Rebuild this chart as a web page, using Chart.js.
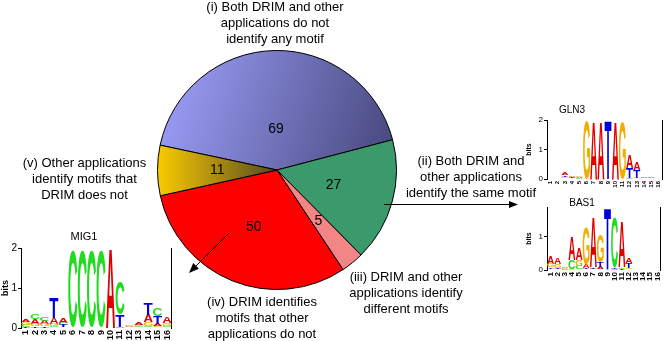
<!DOCTYPE html>
<html>
<head>
<meta charset="utf-8">
<script src="https://cdn.jsdelivr.net/npm/chart.js@4.4.0/dist/chart.umd.min.js"></script>
<style>
  html, body { margin: 0; padding: 0; background: #fff; }
  #wrap { position: relative; width: 669px; height: 341px; overflow: hidden; }
  #wrap canvas { position: absolute; }
</style>
</head>
<body>
<div id="wrap">
  <canvas id="pie" width="669" height="341" style="left:0px;top:0px"></canvas>
  <canvas id="mig1" width="180" height="116" style="left:0px;top:225px"></canvas>
  <canvas id="gln3" width="144" height="92" style="left:525px;top:100px"></canvas>
  <canvas id="bas1" width="144" height="100" style="left:525px;top:195px"></canvas>
</div>
<script>
// Pie: categories and counts
const categories = [
    ['(i) Both DRIM and other', 'applications do not', 'identify any motif'],
    ['(ii) Both DRIM and', 'other applications', 'identify the same motif'],
    ['(iii) DRIM and other', 'applications identify', 'different motifs'],
    ['(iv) DRIM identifies', 'motifs that other', 'applications do not'],
    ['(v) Other applications', 'identify motifs that', 'DRIM does not'],
];
const counts = [69, 27, 5, 50, 11];

// Logo positions (x tick labels)
const positionLabels = ['1', '2', '3', '4', '5', '6', '7', '8', '9', '10', '11', '12', '13', '14', '15', '16'];

// Letter heights in bits, per position
const mig1A = [0.07, 0.12, 0.08, 0.15, 0.13, 0.01, 0.01, 0.01, 0.01, 1.98, 0.02, 0.02, 0.05, 0.18, 0.07, 0.16];
const mig1C = [0.05, 0.13, 0.09, 0.04, 0.06, 1.92, 1.92, 1.92, 1.92, 0.00, 0.83, 0.01, 0.03, 0.04, 0.20, 0.04];
const mig1G = [0.06, 0.06, 0.05, 0.06, 0.02, 0.01, 0.01, 0.01, 0.01, 0.00, 0.01, 0.02, 0.03, 0.10, 0.04, 0.06];
const mig1T = [0.03, 0.04, 0.04, 0.50, 0.05, 0.01, 0.01, 0.01, 0.01, 0.00, 0.30, 0.01, 0.02, 0.28, 0.18, 0.02];

const gln3A = [0.01, 0.01, 0.10, 0.04, 0.03, 0.01, 1.95, 1.95, 0.00, 1.95, 0.01, 0.45, 0.25, 0.02, 0.03, 0.01];
const gln3C = [0.01, 0.01, 0.03, 0.02, 0.02, 0.00, 0.00, 0.00, 0.00, 0.00, 0.00, 0.02, 0.02, 0.01, 0.01, 0.01];
const gln3G = [0.01, 0.01, 0.04, 0.03, 0.04, 1.95, 0.00, 0.00, 0.00, 0.00, 1.94, 0.01, 0.03, 0.02, 0.03, 0.01];
const gln3T = [0.01, 0.01, 0.06, 0.02, 0.01, 0.00, 0.00, 0.00, 2.00, 0.00, 0.00, 0.33, 0.24, 0.01, 0.01, 0.01];

const bas1A = [0.22, 0.20, 0.03, 0.69, 0.36, 0.12, 1.48, 0.06, 0.01, 0.02, 1.38, 0.16, 0.01, 0.01, 0.01, 0.01];
const bas1C = [0.03, 0.03, 0.02, 0.27, 0.10, 0.02, 0.02, 0.03, 0.01, 1.50, 0.04, 0.02, 0.01, 0.01, 0.01, 0.01];
const bas1G = [0.10, 0.10, 0.02, 0.02, 0.18, 1.10, 0.04, 0.82, 0.01, 0.01, 0.01, 0.03, 0.01, 0.01, 0.01, 0.01];
const bas1T = [0.05, 0.04, 0.01, 0.01, 0.03, 0.03, 0.02, 0.15, 1.85, 0.04, 0.03, 0.15, 0.01, 0.01, 0.01, 0.01];

const FONT = '"Liberation Sans", Arial, sans-serif';
const LETTERS = ['A', 'C', 'G', 'T'];
const LETTER_COLORS = { A: '#e00000', C: '#1fdc1f', G: '#f0ae00', T: '#0000d8' };
const SLICE_COLORS = ['#7577c8', '#3a9a6b', '#f28585', '#ff0000', '#d8ae00'];

Chart.defaults.font.family = FONT;
Chart.defaults.color = '#000000';

/* ---------- pie ---------- */

function sliceColor(context) {
    const i = context.dataIndex;
    const area = context.chart.chartArea;
    if (!area) return SLICE_COLORS[i];
    const ctx = context.chart.ctx;
    if (i === 0) {
        const g = ctx.createLinearGradient(area.left + 10, area.top + 40, area.right, area.top + 110);
        g.addColorStop(0, '#9a9cf6');
        g.addColorStop(1, '#45467a');
        return g;
    }
    if (i === 4) {
        const cx = (area.left + area.right) / 2;
        const g = ctx.createLinearGradient(area.left, 0, cx, 0);
        g.addColorStop(0, '#fccb00');
        g.addColorStop(1, '#564a20');
        return g;
    }
    return SLICE_COLORS[i];
}

function drawArrow(ctx, x1, y1, x2, y2, len, half) {
    const a = Math.atan2(y2 - y1, x2 - x1);
    const c = Math.cos(a), s = Math.sin(a);
    ctx.beginPath();
    ctx.moveTo(x1, y1);
    ctx.lineTo(x2 - c * len * 0.7, y2 - s * len * 0.7);
    ctx.stroke();
    ctx.beginPath();
    ctx.moveTo(x2, y2);
    ctx.lineTo(x2 - c * len - s * half, y2 - s * len + c * half);
    ctx.lineTo(x2 - c * len + s * half, y2 - s * len - c * half);
    ctx.closePath();
    ctx.fill();
}

// where each slice's number sits, as a share of the radius
const labelRadius = [0.34, 0.49, 0.55, 0.52, 0.5];
// centre x and first baseline of each caption
const notePos = [
    { x: 275, y: 11 },
    { x: 471, y: 164.5 },
    { x: 406, y: 280.5 },
    { x: 262, y: 306 },
    { x: 84.5, y: 167 },
];

const pieNotes = {
    id: 'pieNotes',
    afterDraw(chart) {
        const ctx = chart.ctx;
        const arcs = chart.getDatasetMeta(0).data;
        ctx.save();
        ctx.fillStyle = '#000';
        ctx.textAlign = 'center';

        // slice counts
        ctx.font = '14px ' + FONT;
        ctx.textBaseline = 'middle';
        arcs.forEach((arc, i) => {
            const { x, y, startAngle, endAngle, outerRadius } = arc.getProps(['x', 'y', 'startAngle', 'endAngle', 'outerRadius'], true);
            const mid = (startAngle + endAngle) / 2;
            const r = outerRadius * labelRadius[i];
            ctx.fillText(String(counts[i]), x + Math.cos(mid) * r, y + Math.sin(mid) * r);
        });

        // captions
        ctx.font = '13px ' + FONT;
        ctx.textBaseline = 'alphabetic';
        categories.forEach((lines, i) => {
            lines.forEach((line, k) => {
                ctx.fillText(line, notePos[i].x, notePos[i].y + k * 16);
            });
        });

        // arrows to the logos
        ctx.strokeStyle = '#000';
        ctx.lineWidth = 1;
        drawArrow(ctx, 384, 204.5, 518, 204.5, 9, 3.5);
        drawArrow(ctx, 229, 233, 189, 273, 10, 4);
        ctx.restore();
    },
};

new Chart(document.getElementById('pie'), {
    type: 'pie',
    data: {
        labels: categories.map((c) => c.join(' ')),
        datasets: [
            {
                data: counts,
                backgroundColor: sliceColor,
                borderColor: '#000000',
                borderWidth: 1,
            },
        ],
    },
    options: {
        responsive: false,
        animation: false,
        rotation: -78,
        layout: { padding: { left: 157, right: 272, top: 50, bottom: 51 } },
        plugins: {
            legend: { display: false },
            tooltip: { enabled: false },
        },
    },
    plugins: [pieNotes],
});

/* ---------- sequence logos ---------- */

// stack letters per column, smallest at the bottom
function stackLogo(heights) {
    const out = { A: [], C: [], G: [], T: [] };
    for (let p = 0; p < positionLabels.length; p++) {
        const order = LETTERS.slice().sort((a, b) => heights[a][p] - heights[b][p]);
        let base = 0;
        order.forEach((l) => {
            out[l][p] = [base, base + heights[l][p]];
            base += heights[l][p];
        });
    }
    return out;
}

function drawGlyph(ctx, ch, color, x, y, w, h) {
    ctx.save();
    ctx.font = 'bold 100px ' + FONT;
    const m = ctx.measureText(ch);
    const gw = m.actualBoundingBoxLeft + m.actualBoundingBoxRight;
    const gh = m.actualBoundingBoxAscent + m.actualBoundingBoxDescent;
    ctx.translate(x, y);
    ctx.scale(w / gw, h / gh);
    ctx.fillStyle = color;
    ctx.textAlign = 'left';
    ctx.textBaseline = 'alphabetic';
    ctx.fillText(ch, m.actualBoundingBoxLeft, m.actualBoundingBoxAscent);
    ctx.restore();
}

const letterPlugin = {
    id: 'letters',
    afterDatasetsDraw(chart) {
        const ctx = chart.ctx;
        chart.data.datasets.forEach((ds, di) => {
            chart.getDatasetMeta(di).data.forEach((bar) => {
                const { x, y, base, width } = bar.getProps(['x', 'y', 'base', 'width'], true);
                const h = Math.abs(base - y);
                if (h < 0.4) return;
                drawGlyph(ctx, ds.label, ds.letterColor, x - width / 2, Math.min(y, base), width, h);
            });
        });
    },
};

const logoTitle = {
    id: 'logoTitle',
    afterDraw(chart, args, o) {
        const ctx = chart.ctx;
        ctx.save();
        ctx.font = o.size + 'px ' + FONT;
        ctx.fillStyle = '#000';
        ctx.textAlign = 'center';
        ctx.textBaseline = 'middle';
        ctx.fillText(o.text, o.x, o.y);
        ctx.restore();
    },
};

function makeLogo(id, heights, o) {
    const stacks = stackLogo(heights);
    return new Chart(document.getElementById(id), {
        type: 'bar',
        data: {
            labels: positionLabels,
            datasets: LETTERS.map((l) => ({
                label: l,
                data: stacks[l],
                letterColor: LETTER_COLORS[l],
                backgroundColor: 'rgba(0,0,0,0)',
                borderWidth: 0,
                grouped: false,
                barPercentage: 1,
                categoryPercentage: 0.96,
            })),
        },
        options: {
            responsive: false,
            animation: false,
            layout: { padding: { top: o.top, right: o.right, left: 0, bottom: 0 } },
            scales: {
                x: {
                    grid: { display: false, drawTicks: false },
                    border: { display: false },
                    ticks: {
                        autoSkip: false,
                        maxRotation: 90,
                        minRotation: 90,
                        padding: 2,
                        font: { size: o.xFont, weight: 'bold' },
                    },
                    afterFit: (s) => { s.height = o.xHeight; },
                },
                y: {
                    min: 0,
                    max: o.max,
                    border: { display: true, color: '#000' },
                    grid: { display: true, drawOnChartArea: false, drawTicks: true, tickLength: 3, color: '#000' },
                    ticks: { stepSize: 1, padding: 1, font: { size: o.yFont } },
                    title: { display: true, text: 'bits', padding: 0, font: { size: o.yFont - 1, weight: 'bold' } },
                    afterBuildTicks: (s) => { s.ticks = s.ticks.filter((t) => Number.isInteger(t.value)); },
                    afterFit: (s) => { s.width = o.yWidth; },
                },
                yR: {
                    position: 'right',
                    min: 0,
                    max: o.max,
                    ticks: { display: false },
                    grid: { display: false },
                    border: { display: true, color: '#000' },
                    afterFit: (s) => { s.width = 0; },
                },
            },
            plugins: {
                legend: { display: false },
                tooltip: { enabled: false },
                logoTitle: { text: o.title, x: o.titleX, y: o.titleY, size: o.titleSize },
            },
        },
        plugins: [letterPlugin, logoTitle],
    });
}

makeLogo('mig1', { A: mig1A, C: mig1C, G: mig1G, T: mig1T }, {
    title: 'MIG1', titleX: 84, titleY: 12, titleSize: 11,
    top: 23, right: 4, xHeight: 13, yWidth: 21, max: 2, xFont: 9, yFont: 10,
});
makeLogo('gln3', { A: gln3A, C: gln3C, G: gln3G, T: gln3T }, {
    title: 'GLN3', titleX: 47, titleY: 10, titleSize: 10,
    top: 20, right: 7, xHeight: 13, yWidth: 22, max: 2, xFont: 6, yFont: 8,
});
makeLogo('bas1', { A: bas1A, C: bas1C, G: bas1G, T: bas1T }, {
    title: 'BAS1', titleX: 57, titleY: 8, titleSize: 10,
    top: 12, right: 2, xHeight: 25, yWidth: 22, max: 1.9, xFont: 8, yFont: 8,
});
</script>
</body>
</html>
